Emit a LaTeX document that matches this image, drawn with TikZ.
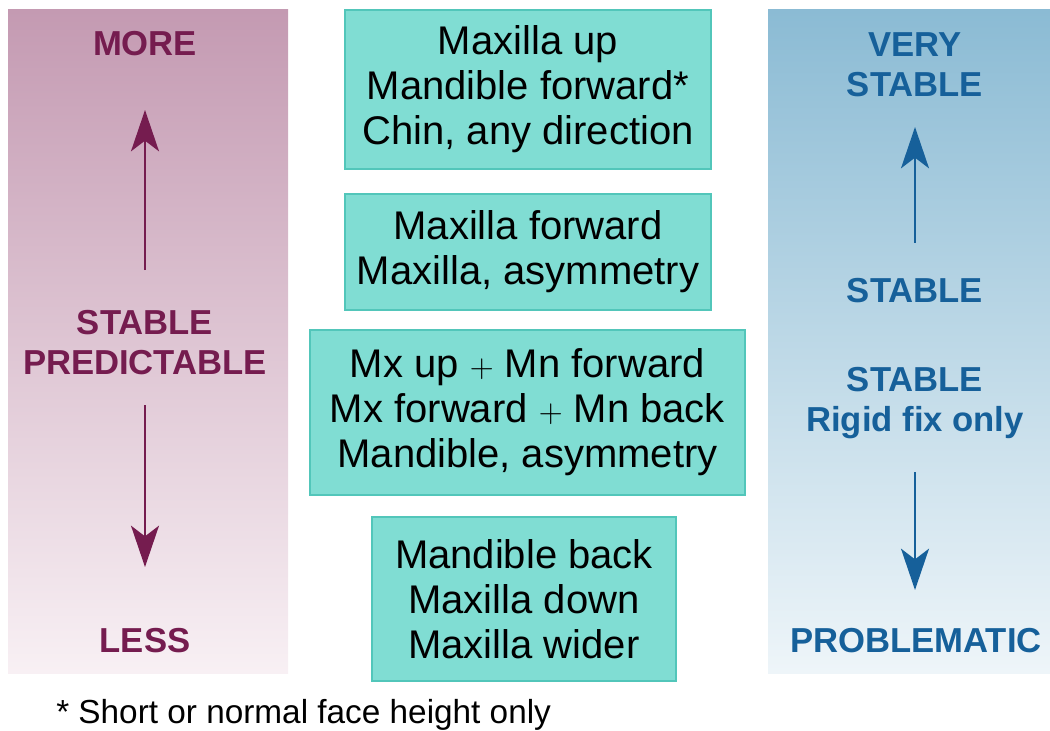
\documentclass[tikz,border=0pt]{standalone}
\usepackage{fontspec}
\setmainfont{Liberation Sans}
\usepackage{tikz}
\usetikzlibrary{arrows.meta}

\definecolor{plumtop}{HTML}{C49AB2}
\definecolor{plumbot}{HTML}{F8F0F4}
\definecolor{plumtxt}{HTML}{751C4F}
\definecolor{bluetop}{HTML}{8BBBD4}
\definecolor{bluebot}{HTML}{EEF5F9}
\definecolor{bluetxt}{HTML}{16609A}
\definecolor{tealfill}{HTML}{80DDD3}
\definecolor{tealline}{HTML}{52C6BA}

\begin{document}
\begin{tikzpicture}[x=0.75pt,y=-0.75pt]
\tikzstyle{lbl} = [font=\bfseries\fontsize{26}{30}\selectfont,align=center,inner sep=0pt]
\tikzstyle{mbox} = [draw=tealline,fill=tealfill,line width=0.8pt,align=center,inner sep=0pt,font=\fontsize{30}{33.75}\selectfont]
\tikzstyle{arrL} = [plumtxt,line width=1.5pt,-{Stealth[length=31pt,width=21pt,inset=8pt]}]
\tikzstyle{arrR} = [bluetxt,line width=1.5pt,-{Stealth[length=31pt,width=21pt,inset=8pt]}]

\useasboundingbox (0,0) rectangle (1050,731);

% side panels
\shade[top color=plumtop,bottom color=plumbot] (8,10) rectangle (288,673);
\shade[top color=bluetop,bottom color=bluebot] (768,10) rectangle (1050,673);

% left scale
\node[lbl,text=plumtxt] (more) at (145,44) {MORE};
\node[lbl,text=plumtxt] (pred) at (145,343) {STABLE\\PREDICTABLE};
\node[lbl,text=plumtxt] (less) at (145,641) {LESS};
\coordinate (lup0) at (145,270);
\coordinate (lup1) at (145,110);
\coordinate (ldn0) at (145,405);
\coordinate (ldn1) at (145,567);
\draw[arrL] (lup0) -- (lup1);
\draw[arrL] (ldn0) -- (ldn1);

% right scale
\node[lbl,text=bluetxt] (vstab) at (915,65) {VERY\\STABLE};
\node[lbl,text=bluetxt] (stab) at (915,291) {STABLE};
\node[lbl,text=bluetxt] (rigid) at (915,403) {STABLE\\Rigid fix only};
\node[lbl,text=bluetxt] (prob) at (916,641) {PROBLEMATIC};
\coordinate (rup0) at (915,243);
\coordinate (rup1) at (915,127);
\coordinate (rdn0) at (915,472);
\coordinate (rdn1) at (915,590);
\draw[arrR] (rup0) -- (rup1);
\draw[arrR] (rdn0) -- (rdn1);

% procedures
\node[mbox,minimum width=274.5pt,minimum height=119.25pt] (b1) at (528,89.5)
  {Maxilla up\\Mandible forward*\\Chin, any direction};
\node[mbox,minimum width=274.5pt,minimum height=87pt] (b2) at (528,252)
  {Maxilla forward\\Maxilla, asymmetry};
\node[mbox,minimum width=326.25pt,minimum height=123.75pt] (b3) at (527.5,412.5)
  {Mx up $+$ Mn forward\\Mx forward $+$ Mn back\\Mandible, asymmetry};
\node[mbox,minimum width=228pt,minimum height=123pt] (b4) at (524,599)
  {Mandible back\\Maxilla down\\Maxilla wider};

\node[anchor=west,inner sep=0pt,font=\fontsize{25}{29}\selectfont] (note) at (56,715)
  {* Short or normal face height only};
\end{tikzpicture}
\end{document}
